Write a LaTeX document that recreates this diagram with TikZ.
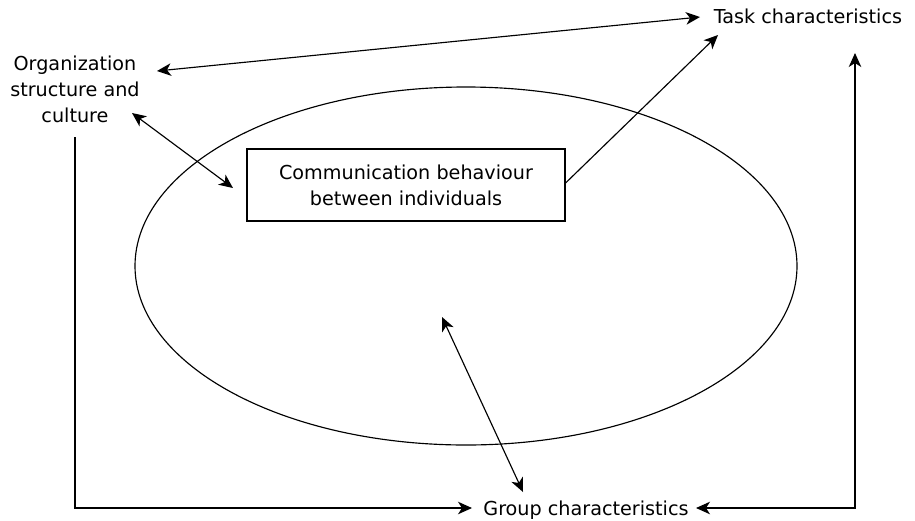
\documentclass[tikz,border=0pt]{standalone}
\usepackage{fontspec}
\setmainfont{DejaVu Sans}
\usetikzlibrary{arrows.meta,shapes.geometric}
\begin{document}
\begin{tikzpicture}[x=1pt,y=-1pt,
  >={Stealth[length=14pt,width=12.5pt,inset=4pt]},
  every node/.style={font=\fontsize{19.2}{26}\selectfont, inner sep=0pt},
  line/.style={line width=1.15pt},
  label/.style={align=center},
  box/.style={draw, line width=1.15pt, minimum width=318pt, minimum height=72pt, align=center},
  oval/.style={draw, ellipse, line width=1.15pt}]
\useasboundingbox (0,0) rectangle (915,520);

% labels and shapes
\node[label] (org) at (75,89) {Organization\\structure and\\culture};
\node[anchor=base] (task) at (808,23) {Task characteristics};
\node[anchor=base] (group) at (586,515) {Group characteristics};
\node[oval, minimum width=662pt, minimum height=358pt] (field) at (466,266) {};
\node[box] (comm) at (406,185) {Communication behaviour\\between individuals};

% connector end points
\coordinate (orgTop) at (157,71);
\coordinate (taskLeft) at (700,17);
\coordinate (orgLow) at (132,113);
\coordinate (commWest) at (233,188);
\coordinate (taskLow) at (718,35);
\coordinate (fieldIn) at (442,317);
\coordinate (groupTop) at (523,492);
\coordinate (orgFoot) at (75,137);
\coordinate (groupLeft) at (472,508);
\coordinate (groupRight) at (696,508);
\coordinate (taskUp) at (855,53);

% connectors
\draw[line,<->] (orgTop) -- (taskLeft);
\draw[line,<->] (orgLow) -- (commWest);
\draw[line,->] (comm.east) ++(0,-2) -- (taskLow);
\draw[line,<->] (fieldIn) -- (groupTop);
\draw[line,->] (orgFoot) |- (groupLeft);
\draw[line,<->] (groupRight) -| (taskUp);
\end{tikzpicture}
\end{document}
